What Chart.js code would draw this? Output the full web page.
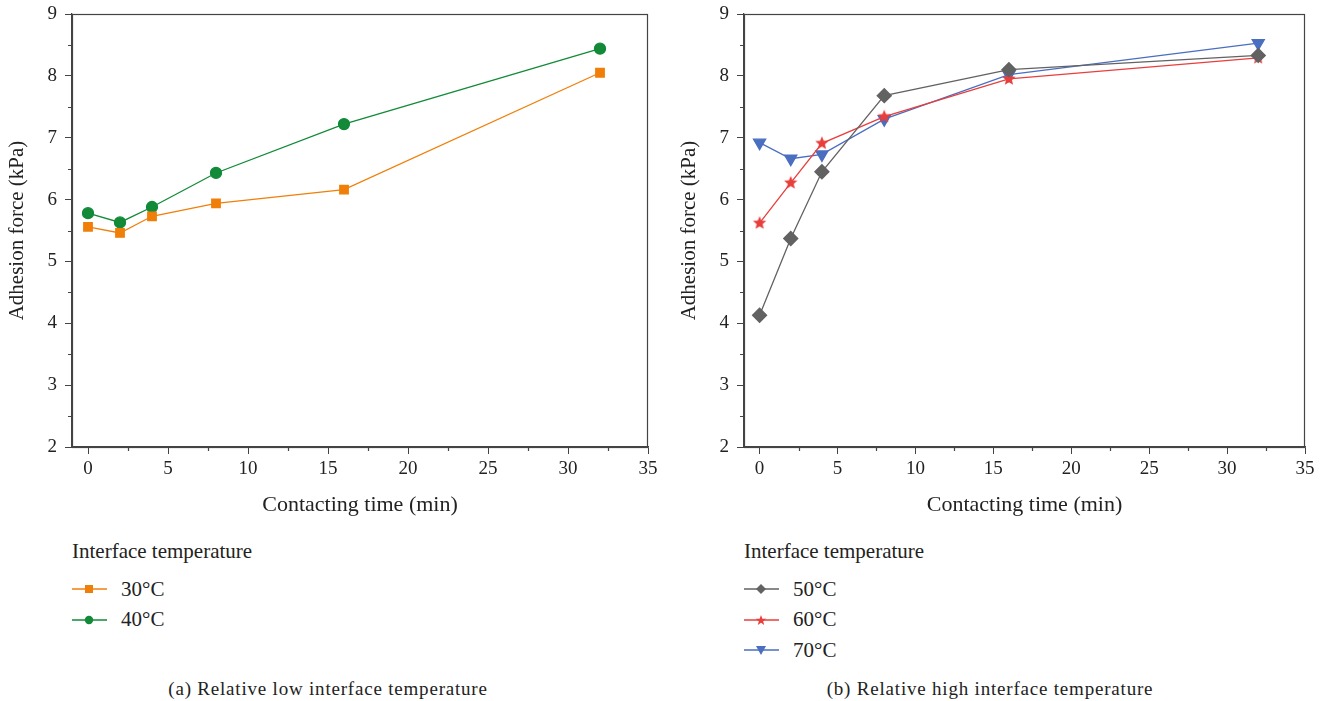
<!DOCTYPE html>
<html>
<head>
<meta charset="utf-8">
<script src="https://cdn.jsdelivr.net/npm/chart.js@4.4.1/dist/chart.umd.min.js"></script>
<style>
  body { margin: 0; background: #fff; font-family: "Liberation Serif", "DejaVu Serif", "Times New Roman", serif; color: #222; }
  .box { position: absolute; }
  .legend { position: absolute; font-size: 21px; }
  .legend .ttl { height: 30px; line-height: 30px; margin-bottom: 8px; }
  .legend .item { height: 30.5px; display: flex; align-items: center; }
  .legend svg { margin-right: 14px; }
  .cap { position: absolute; top: 676px; font-size: 19px; letter-spacing: 0.8px; text-align: center; width: 500px; line-height: 26px; }
</style>
</head>
<body>
<div class="box" style="left:0;top:0;width:665px;height:527px"><canvas id="chartA"></canvas></div>
<div class="box" style="left:672px;top:0;width:650px;height:527px"><canvas id="chartB"></canvas></div>
<div class="legend" id="legA" style="left:72px;top:536px"></div>
<div class="legend" id="legB" style="left:744px;top:536px"></div>
<div class="cap" style="left:78px">(a) Relative low interface temperature</div>
<div class="cap" style="left:740px">(b) Relative high interface temperature</div>
<script>
var times = [0, 2, 4, 8, 16, 32];

var lowLabels = ["30°C", "40°C"];
var force30 = [5.56, 5.46, 5.73, 5.94, 6.16, 8.05];
var force40 = [5.78, 5.63, 5.88, 6.43, 7.22, 8.44];

var highLabels = ["50°C", "60°C", "70°C"];
var force50 = [4.13, 5.37, 6.45, 7.68, 8.10, 8.33];
var force60 = [5.62, 6.27, 6.91, 7.34, 7.95, 8.29];
var force70 = [6.92, 6.66, 6.73, 7.30, 8.02, 8.53];

var FONT = "'Liberation Serif', 'DejaVu Serif', 'Times New Roman', serif";
var AXIS = "#444";

// filled 5-point star for the 60°C series
function starImage(color, r) {
  var c = document.createElement("canvas");
  c.width = c.height = r * 2 + 2;
  var g = c.getContext("2d");
  g.fillStyle = color;
  g.beginPath();
  for (var i = 0; i < 10; i++) {
    var rad = i % 2 ? r * 0.45 : r;
    var a = -Math.PI / 2 + i * Math.PI / 5;
    var px = r + 1 + rad * Math.cos(a), py = r + 1 + rad * Math.sin(a);
    if (i) g.lineTo(px, py); else g.moveTo(px, py);
  }
  g.closePath();
  g.fill();
  return c;
}

// box around the plot + short minor ticks halfway between major ones
var frame = {
  id: "frame",
  afterDraw: function (chart) {
    var a = chart.chartArea, ctx = chart.ctx;
    ctx.save();
    ctx.strokeStyle = AXIS;
    ctx.lineWidth = 1.2;
    ctx.strokeRect(a.left + 0.5, a.top + 0.5, a.right - a.left - 1, a.bottom - a.top);
    ctx.beginPath();
    var xs = chart.scales.x, ys = chart.scales.y;
    for (var i = 1; i < xs.ticks.length; i++) {
      var px = Math.round(xs.getPixelForValue((xs.ticks[i - 1].value + xs.ticks[i].value) / 2)) + 0.5;
      ctx.moveTo(px, a.bottom);
      ctx.lineTo(px, a.bottom + 4);
    }
    for (var j = 1; j < ys.ticks.length; j++) {
      var py = Math.round(ys.getPixelForValue((ys.ticks[j - 1].value + ys.ticks[j].value) / 2)) + 0.5;
      ctx.moveTo(a.left, py);
      ctx.lineTo(a.left - 4, py);
    }
    ctx.stroke();
    ctx.restore();
  }
};

function pts(ys) {
  return times.map(function (t, i) { return { x: t, y: ys[i] }; });
}

function series(label, ys, color, style, size, rot) {
  return {
    label: label,
    data: pts(ys),
    borderColor: color,
    backgroundColor: color,
    pointBackgroundColor: color,
    pointBorderColor: color,
    borderWidth: 1.3,
    pointStyle: style,
    pointRadius: size,
    pointRotation: rot || 0,
    tension: 0
  };
}

function options() {
  return {
    responsive: true,
    maintainAspectRatio: false,
    animation: false,
    layout: { padding: { left: 0, right: 17, top: 14, bottom: 0 } },
    plugins: { legend: { display: false }, tooltip: { enabled: false } },
    scales: {
      x: {
        type: "linear",
        min: -1,
        max: 35,
        border: { color: AXIS, width: 1.3 },
        grid: { drawOnChartArea: false, tickLength: 7, color: AXIS },
        ticks: {
          stepSize: 5,
          includeBounds: false,
          autoSkip: false,
          maxRotation: 0,
          padding: 4,
          color: "#222",
          font: { family: FONT, size: 19 }
        },
        title: {
          display: true,
          text: "Contacting time (min)",
          color: "#222",
          font: { family: FONT, size: 22 },
          padding: { top: 0, bottom: 9 }
        },
        afterFit: function (s) { s.height = 80; }
      },
      y: {
        min: 2,
        max: 9,
        border: { color: AXIS, width: 1.3 },
        grid: { drawOnChartArea: false, tickLength: 7, color: AXIS },
        ticks: {
          stepSize: 1,
          autoSkip: false,
          padding: 8,
          color: "#222",
          font: { family: FONT, size: 19 }
        },
        title: {
          display: true,
          text: "Adhesion force (kPa)",
          color: "#222",
          font: { family: FONT, size: 21 },
          padding: { top: 5, bottom: 0 }
        },
        afterFit: function (s) { s.width = 72; s.paddingTop = 0; s.paddingBottom = 0; }
      }
    }
  };
}

var lowSets = [
  series(lowLabels[0], force30, "#f07f0a", "rect", 6),
  series(lowLabels[1], force40, "#128a38", "circle", 5.5)
];
var highSets = [
  series(highLabels[0], force50, "#626262", "rectRot", 7),
  series(highLabels[1], force60, "#e83e3c", starImage("#e83e3c", 7), 7),
  series(highLabels[2], force70, "#4a6ec0", "triangle", 7, 180)
];

new Chart("chartA", { type: "line", data: { datasets: lowSets }, options: options(), plugins: [frame] });
new Chart("chartB", { type: "line", data: { datasets: highSets }, options: options(), plugins: [frame] });

// legends below each panel
function marker(ds) {
  var c = ds.borderColor, m;
  var st = ds.pointStyle;
  if (st === "rect") m = '<rect x="13" y="3" width="8" height="8" fill="' + c + '"/>';
  else if (st === "circle") m = '<circle cx="17" cy="7" r="4.2" fill="' + c + '"/>';
  else if (st === "rectRot") m = '<polygon points="17,2 22,7 17,12 12,7" fill="' + c + '"/>';
  else if (st === "triangle") m = '<polygon points="12,3 22,3 17,12" fill="' + c + '"/>';
  else {
    var p = [];
    for (var i = 0; i < 10; i++) {
      var r = i % 2 ? 2.3 : 5.5, a = -Math.PI / 2 + i * Math.PI / 5;
      p.push((17 + r * Math.cos(a)).toFixed(2) + "," + (7.5 + r * Math.sin(a)).toFixed(2));
    }
    m = '<polygon points="' + p.join(" ") + '" fill="' + c + '"/>';
  }
  return '<svg width="35" height="14"><line x1="0" y1="7" x2="35" y2="7" stroke="' + c + '" stroke-width="1.3"/>' + m + '</svg>';
}
function legend(id, sets) {
  var html = '<div class="ttl">Interface temperature</div>';
  sets.forEach(function (ds) {
    html += '<div class="item">' + marker(ds) + '<span>' + ds.label + '</span></div>';
  });
  document.getElementById(id).innerHTML = html;
}
legend("legA", lowSets);
legend("legB", highSets);
</script>
</body>
</html>
